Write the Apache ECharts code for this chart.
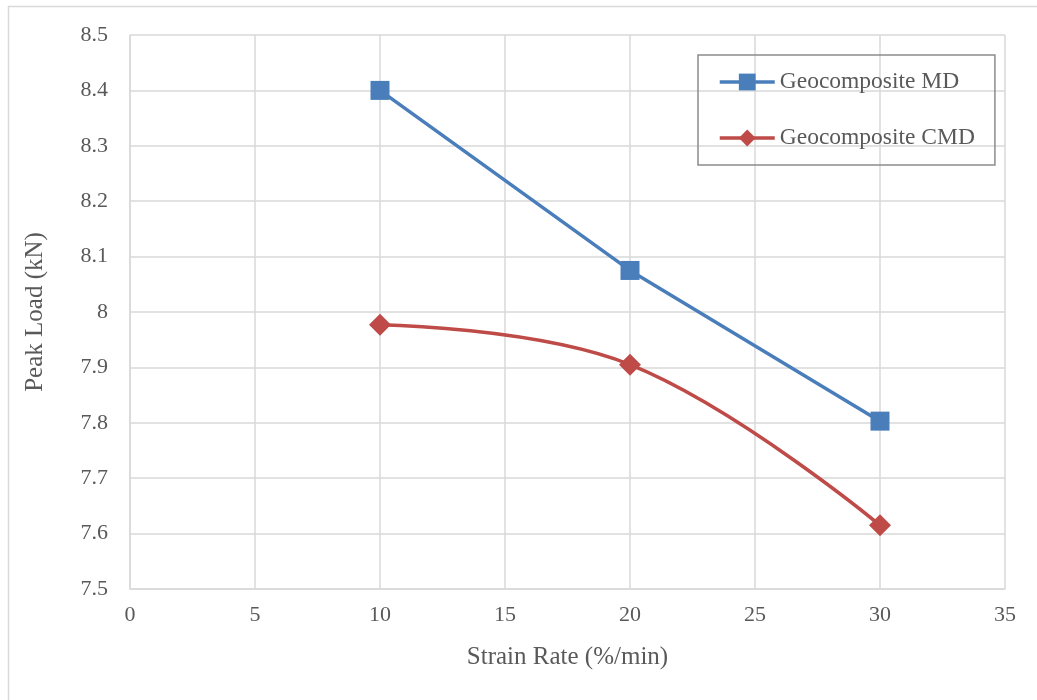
<!DOCTYPE html>
<html>
<head>
<meta charset="utf-8">
<script src="https://cdn.jsdelivr.net/npm/echarts@6/dist/echarts.min.js"></script>
<style>
  html, body { margin: 0; padding: 0; background: #fff; }
  #main { width: 1037px; height: 700px; }
</style>
</head>
<body>
<div id="main"></div>
<script>
// 数据
const strainRate = [10, 20, 30];
const mdLoad = [8.4, 8.075, 7.803];
const cmdLoad = [7.977, 7.905, 7.615];
const seriesNames = ['Geocomposite MD', 'Geocomposite CMD'];

const pairs = (xs, ys) => xs.map((x, i) => [x, ys[i]]);

const textColor = '#595959';
const gridColor = '#d9d9d9';
const fontFamily = '"Liberation Serif", "Times New Roman", serif';

let myChart = echarts.init(document.getElementById('main'));
let option = {
    animation: false,
    textStyle: { fontFamily: fontFamily },
    graphic: [
        {
            type: 'rect',
            shape: { x: 8.5, y: 6.5, width: 1040, height: 710 },
            style: { fill: 'none', stroke: gridColor, lineWidth: 1.5 },
            silent: true
        }
    ],
    grid: {
        left: 130,
        right: 32,
        top: 35,
        bottom: 111
    },
    legend: {
        orient: 'vertical',
        left: 698,
        top: 55,
        padding: [15, 20, 15, 20],
        itemGap: 32,
        itemWidth: 55,
        itemHeight: 21,
        borderColor: '#8c8c8c',
        borderWidth: 1.5,
        lineStyle: { width: 3.5 },
        data: seriesNames,
        textStyle: { color: textColor, fontSize: 23.5, fontFamily: fontFamily, padding: [0, 0, 0, 0] }
    },
    xAxis: {
        type: 'value',
        min: 0,
        max: 35,
        interval: 5,
        name: 'Strain Rate (%/min)',
        nameLocation: 'middle',
        nameGap: 56,
        nameTextStyle: { color: textColor, fontSize: 25, fontFamily: fontFamily },
        axisLine: { lineStyle: { color: gridColor, width: 1.5 } },
        axisTick: { show: false },
        axisLabel: { color: textColor, fontSize: 22, margin: 15 },
        splitLine: { show: true, lineStyle: { color: gridColor, width: 1.5 } }
    },
    yAxis: {
        type: 'value',
        min: 7.5,
        max: 8.5,
        interval: 0.1,
        name: 'Peak Load (kN)',
        nameLocation: 'middle',
        nameGap: 82,
        nameTextStyle: { color: textColor, fontSize: 25, fontFamily: fontFamily },
        axisLine: { show: true, lineStyle: { color: gridColor, width: 1.5 } },
        axisTick: { show: false },
        axisLabel: {
            color: textColor,
            fontSize: 22,
            margin: 22,
            formatter: v => String(Math.round(v * 10) / 10)
        },
        splitLine: { show: true, lineStyle: { color: gridColor, width: 1.5 } }
    },
    series: [
        {
            name: seriesNames[0],
            type: 'line',
            data: pairs(strainRate, mdLoad),
            symbol: 'rect',
            symbolSize: 19,
            lineStyle: { color: '#4a7ebb', width: 3.5 },
            itemStyle: { color: '#4a7ebb' }
        },
        {
            name: seriesNames[1],
            type: 'line',
            data: pairs(strainRate, cmdLoad),
            smooth: 0.4,
            symbol: 'diamond',
            symbolSize: 22,
            lineStyle: { color: '#be4b48', width: 3.5 },
            itemStyle: { color: '#be4b48' }
        }
    ]
};
myChart.setOption(option);
</script>
</body>
</html>
